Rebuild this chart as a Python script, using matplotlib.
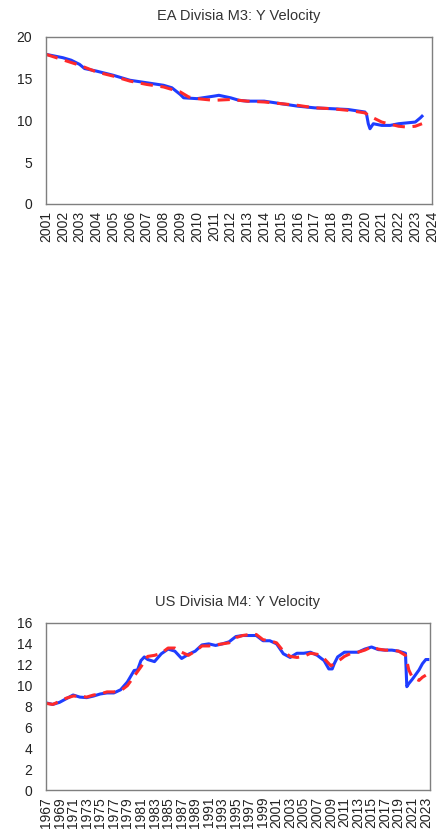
import numpy as np
import matplotlib
matplotlib.use("Agg")
import matplotlib.pyplot as plt

plt.rcParams['font.family'] = ['Liberation Sans', 'DejaVu Sans']

# EA Divisia M3 velocity: actual (blue) and fitted (red dashed)
ea_t_actual = [2001, 2002, 2002.5, 2003, 2003.3, 2004, 2005, 2006, 2007, 2008, 2008.5,
               2009, 2009.2, 2010, 2011, 2011.3, 2012, 2012.5, 2013, 2014, 2015, 2016,
               2017, 2018, 2019, 2020, 2020.1, 2020.2, 2020.3, 2020.5, 2021, 2021.5,
               2022, 2022.5, 2023, 2023.3, 2023.4]
ea_actual = [17.9, 17.5, 17.2, 16.7, 16.2, 15.9, 15.4, 14.8, 14.5, 14.2, 13.9,
             13.1, 12.7, 12.6, 12.9, 13.0, 12.7, 12.4, 12.3, 12.3, 12.0, 11.7,
             11.5, 11.4, 11.3, 11.0, 10.7, 9.6, 9.0, 9.6, 9.4, 9.4,
             9.6, 9.7, 9.8, 10.3, 10.5]
ea_t_fit = [2001, 2003, 2004, 2005, 2006, 2007, 2008, 2009, 2009.5, 2010, 2011, 2012,
            2013, 2014, 2015, 2016, 2017, 2018, 2019, 2020, 2020.3, 2021, 2022, 2022.5,
            2023, 2023.4]
ea_fit = [17.9, 16.6, 15.8, 15.3, 14.7, 14.3, 14.0, 13.4, 12.8, 12.6, 12.4, 12.5,
          12.3, 12.2, 12.0, 11.8, 11.5, 11.4, 11.2, 10.9, 10.5, 9.8, 9.3, 9.2,
          9.3, 9.6]

# US Divisia M4 velocity
us_t_actual = [1967, 1968, 1969, 1970, 1971, 1972, 1973, 1974, 1975, 1976, 1977, 1978,
               1979, 1980, 1980.5, 1981, 1981.5, 1982, 1983, 1984, 1985, 1986, 1987,
               1988, 1989, 1990, 1991, 1992, 1993, 1994, 1995, 1996, 1997, 1998, 1999,
               2000, 2001, 2002, 2003, 2004, 2005, 2006, 2007, 2008, 2008.7, 2009.2,
               2009.5, 2010, 2011, 2012, 2013, 2014, 2015, 2016, 2017, 2018, 2019,
               2020, 2020.2, 2020.5, 2021, 2022, 2022.5, 2023, 2023.3]
us_actual = [8.35, 8.2, 8.4, 8.75, 9.1, 8.9, 8.85, 9.0, 9.2, 9.3, 9.3, 9.6,
             10.35, 11.45, 11.5, 12.4, 12.75, 12.5, 12.3, 13.05, 13.5, 13.3, 12.6,
             13.0, 13.3, 13.9, 14.0, 13.85, 14.0, 14.2, 14.7, 14.8, 14.8, 14.8, 14.3,
             14.3, 14.0, 13.05, 12.7, 13.1, 13.1, 13.2, 12.9, 12.4, 11.6, 11.6,
             12.1, 12.75, 13.2, 13.2, 13.2, 13.5, 13.7, 13.45, 13.4, 13.4, 13.3,
             13.1, 9.9, 10.2, 10.6, 11.5, 12.1, 12.5, 12.5]
us_t_fit = [1967, 1968, 1969, 1970, 1971, 1972, 1973, 1974, 1975, 1976, 1977, 1978,
            1979, 1980, 1981, 1982, 1983, 1984, 1985, 1986, 1987, 1988, 1989, 1990,
            1991, 1992, 1993, 1994, 1995, 1996, 1997, 1998, 1999, 2000, 2001, 2002,
            2003, 2004, 2005, 2006, 2007, 2008, 2009, 2010, 2011, 2012, 2013, 2014,
            2015, 2016, 2017, 2018, 2019, 2020, 2020.5, 2021, 2022, 2022.5, 2023]
us_fit = [8.3, 8.2, 8.5, 8.8, 9.0, 9.0, 8.9, 9.1, 9.2, 9.4, 9.4, 9.5,
          10.0, 10.9, 11.8, 12.8, 12.9, 13.1, 13.6, 13.6, 13.2, 12.9, 13.3, 13.8,
          13.8, 13.9, 14.0, 14.1, 14.6, 14.8, 14.9, 14.9, 14.4, 14.3, 14.1, 13.3,
          12.8, 12.7, 12.8, 13.1, 13.0, 12.6, 11.9, 12.3, 12.8, 13.1, 13.2, 13.4,
          13.7, 13.5, 13.4, 13.4, 13.3, 12.9, 11.5, 10.8, 10.5, 10.8, 11.0]

ea_years = list(range(2001, 2025))
us_years = list(range(1967, 2024, 2))

BLUE = '#1f3dff'
RED = '#ff2a2a'
SPINE = '#7f7f7f'
TEXT = '#222222'


def style_axes(ax):
    for s in ax.spines.values():
        s.set_color(SPINE)
        s.set_linewidth(1.0)
    ax.tick_params(axis='y', length=0, labelsize=10, pad=10, labelcolor=TEXT)
    ax.tick_params(axis='x', length=0, labelsize=10, pad=5, labelcolor=TEXT)
    for lbl in ax.get_xticklabels():
        lbl.set_rotation(90)


fig = plt.figure(figsize=(4.4, 8.36), dpi=100)

# top panel
ax1 = fig.add_axes([0.1045, 0.756, 0.8775, 0.2])
ax1.plot(ea_t_actual, ea_actual, color=BLUE, lw=2.2)
ax1.plot(ea_t_fit, ea_fit, color=RED, lw=2.2, ls=(0, (4, 2.5)))
ax1.set_xlim(2001, 2024)
ax1.set_ylim(0, 20)
ax1.set_yticks([0, 5, 10, 15, 20])
ax1.set_xticks(ea_years)
ax1.set_xticklabels([str(y) for y in ea_years])
style_axes(ax1)
ax1.set_title("EA Divisia M3: Y Velocity", fontsize=10.5, color='#333333', pad=12)

# bottom panel
ax2 = fig.add_axes([0.1045, 0.055, 0.8725, 0.1998])
ax2.plot(us_t_actual, us_actual, color=BLUE, lw=2.2)
ax2.plot(us_t_fit, us_fit, color=RED, lw=2.2, ls=(0, (4, 2.5)))
ax2.set_xlim(1967, 2023.6)
ax2.set_ylim(0, 16)
ax2.set_yticks(range(0, 17, 2))
ax2.set_xticks(us_years)
ax2.set_xticklabels([str(y) for y in us_years])
style_axes(ax2)
ax2.set_title("US Divisia M4: Y Velocity", fontsize=10.5, color='#333333', pad=12)

fig.savefig("out.png", dpi=100)
